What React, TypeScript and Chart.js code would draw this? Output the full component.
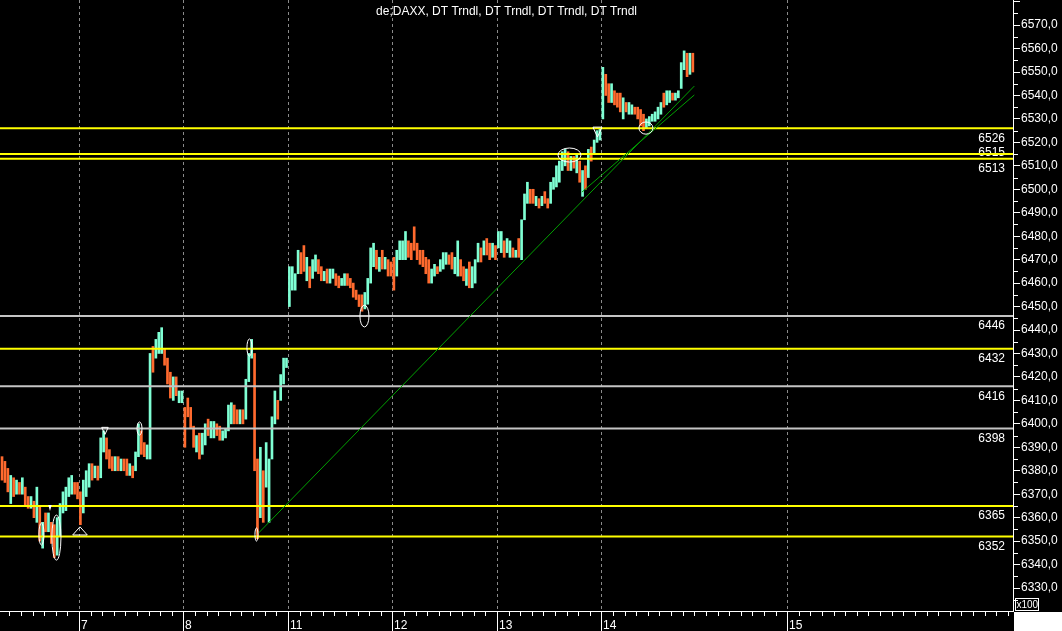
import React, { useEffect, useRef } from "react";
import { Chart, registerables } from "chart.js";

Chart.register(...registerables);

const chartTitle = "de;DAXX, DT Trndl, DT Trndl, DT Trndl, DT Trndl";

// x axis is measured in trading hours (each session is shown as 9 hours)
const dayLabels = ["7", "8", "11", "12", "13", "14", "15"];
const dayStartHours = [0, 9, 18, 27, 36, 45, 61];
const xRange = [-6.8, 80.45];
const yRange = [6320.2, 6580.7];
const yTickValues = [
  6330, 6340, 6350, 6360, 6370, 6380, 6390, 6400, 6410, 6420, 6430, 6440, 6450,
  6460, 6470, 6480, 6490, 6500, 6510, 6520, 6530, 6540, 6550, 6560, 6570, 6580,
];
const yMinorTickValues = [
  6325, 6335, 6345, 6355, 6365, 6375, 6385, 6395, 6405, 6415, 6425, 6435, 6445,
  6455, 6465, 6475, 6485, 6495, 6505, 6515, 6525, 6535, 6545, 6555, 6565, 6575,
];

// 15-minute bars, one session per block (first bar hour of each session)
const sessionFirstHour = [-6.75, 0, 9, 18, 27, 36, 45];
const barHours = 0.25;

// session "6" (partial)
const lows6 = [6376, 6375, 6371, 6366, 6369, 6370, 6370, 6370, 6365, 6364, 6364, 6360, 6358, 6350, 6347, 6354, 6354, 6349, 6343, 6344, 6352, 6362, 6363, 6369, 6370, 6370, 6368];
const highs6 = [6386, 6384, 6381, 6378, 6377, 6376, 6375, 6377, 6373, 6369, 6369, 6367, 6373, 6365, 6358, 6362, 6362, 6358, 6357, 6360, 6366, 6371, 6373, 6377, 6378, 6375, 6375];
const dirs6 = "dddudu duddud ududud duuuuu udd";

// session 7
const lows7 = [6357, 6362, 6369, 6373, 6376, 6377, 6376, 6377, 6388, 6385, 6381, 6380, 6380, 6380, 6380, 6380, 6378, 6378, 6377, 6380, 6386, 6387, 6386, 6385, 6385, 6422, 6428, 6430, 6430, 6425, 6417, 6411, 6410, 6412, 6409, 6409];
const highs7 = [6371, 6376, 6380, 6383, 6383, 6382, 6382, 6394, 6397, 6394, 6389, 6386, 6386, 6386, 6385, 6385, 6385, 6383, 6382, 6388, 6400, 6397, 6392, 6391, 6430, 6433, 6436, 6439, 6441, 6432, 6428, 6422, 6420, 6420, 6414, 6414];
const dirs7 = "duuudu duuddd ududdu duuddu uduuud dduduu";

// session 8
const lows8 = [6390, 6403, 6398, 6390, 6388, 6385, 6387, 6391, 6395, 6394, 6394, 6395, 6393, 6393, 6394, 6397, 6400, 6400, 6400, 6400, 6400, 6402, 6418, 6428, 6380, 6351, 6360, 6358, 6373, 6358, 6385, 6400, 6402, 6410, 6417, 6424];
const highs8 = [6407, 6411, 6407, 6399, 6395, 6396, 6396, 6400, 6402, 6401, 6401, 6400, 6399, 6397, 6398, 6408, 6409, 6408, 6406, 6406, 6406, 6419, 6430, 6436, 6430, 6385, 6390, 6380, 6392, 6385, 6403, 6414, 6410, 6421, 6428, 6428];
const dirs8 = "ddddud uuduud duuuud duduuu dduduu uuduuu";

// session 11
const lows11 = [6450, 6457, 6457, 6464, 6464, 6465, 6461, 6458, 6462, 6465, 6464, 6461, 6461, 6460, 6460, 6462, 6459, 6458, 6459, 6459, 6459, 6458, 6454, 6453, 6450, 6448, 6449, 6451, 6460, 6467, 6466, 6465, 6466, 6466, 6463, 6463];
const highs11 = [6467, 6467, 6464, 6474, 6473, 6476, 6471, 6467, 6470, 6472, 6470, 6467, 6465, 6466, 6466, 6466, 6464, 6463, 6462, 6464, 6464, 6462, 6460, 6457, 6455, 6455, 6456, 6462, 6475, 6477, 6474, 6471, 6474, 6471, 6470, 6469];
const dirs11 = "uuuudd uduudd uduudd uudddd dduuuu dududd";

// session 12
const lows12 = [6457, 6463, 6470, 6470, 6470, 6471, 6470, 6474, 6470, 6468, 6467, 6464, 6460, 6460, 6463, 6464, 6465, 6466, 6468, 6468, 6466, 6464, 6463, 6463, 6461, 6459, 6458, 6458, 6460, 6469, 6469, 6472, 6472, 6470, 6471, 6470];
const highs12 = [6471, 6474, 6478, 6478, 6482, 6478, 6477, 6484, 6477, 6474, 6474, 6471, 6470, 6466, 6468, 6467, 6470, 6473, 6473, 6472, 6473, 6471, 6478, 6470, 6467, 6466, 6469, 6467, 6470, 6477, 6475, 6478, 6479, 6477, 6477, 6476];
const dirs12 = "duuuud dddddd duuduu udduud duduuu duddud";

// session 13
const lows13 = [6475, 6473, 6471, 6473, 6471, 6471, 6471, 6471, 6470, 6487, 6494, 6494, 6494, 6493, 6492, 6493, 6494, 6492, 6494, 6500, 6501, 6503, 6508, 6510, 6508, 6508, 6509, 6507, 6503, 6497, 6500, 6505, 6512, 6515, 6520, 6521];
const highs13 = [6482, 6482, 6478, 6479, 6478, 6475, 6474, 6479, 6487, 6498, 6503, 6500, 6500, 6497, 6496, 6497, 6499, 6496, 6503, 6505, 6510, 6512, 6516, 6517, 6516, 6514, 6514, 6515, 6512, 6508, 6510, 6517, 6518, 6521, 6525, 6526];
const dirs13 = "uuduud uduuud dududd uuuuuu dududu duduuu";

// session 14
const lows14 = [6530, 6540, 6537, 6537, 6536, 6535, 6533, 6530, 6533, 6532, 6532, 6532, 6530, 6527, 6525, 6526, 6527, 6529, 6529, 6530, 6532, 6535, 6536, 6537, 6538, 6538, 6539, 6543, 6551, 6548, 6549, 6550];
const highs14 = [6552, 6549, 6545, 6545, 6542, 6541, 6541, 6539, 6537, 6537, 6536, 6535, 6535, 6534, 6532, 6530, 6531, 6532, 6533, 6535, 6537, 6541, 6542, 6542, 6541, 6541, 6542, 6554, 6559, 6558, 6558, 6558];
const dirs14 = "uddudd duduud ddduuu uuuduu duuuud ud";

// horizontal levels
const yellowLevels = [6526, 6515, 6513, 6432, 6365, 6352];
const grayLevels = [6446, 6416, 6398];

// trend lines: [hour, price] end points
const trendA = [[15.44, 6353.3], [53.0, 6544.0]];
const trendB = [[43.32, 6498.8], [53.0, 6540.2]];

// white annotation ellipses (hour span, price span)
const ellipseLeftHour = [-3.45, -2.33, 5.0, 14.47, 15.16, 24.2, 41.26, 48.23];
const ellipseRightHour = [-3.01, -1.55, 5.43, 14.9, 15.42, 24.98, 43.24, 49.44];
const ellipseTopPrice = [6357.7, 6361.1, 6400.8, 6436.2, 6355.6, 6450.6, 6517.6, 6528.7];
const ellipseBottomPrice = [6348.3, 6341.9, 6395.2, 6428.9, 6350.0, 6441.3, 6511.6, 6523.5];

// white annotation triangles (hour span, tip price, base price)
const triangleLeftHour = [-2.64, -0.54, 1.96, 44.27];
const triangleRightHour = [-2.35, 0.72, 2.52, 45.05];
const triangleTipPrice = [6362.8, 6356.1, 6395.5, 6522.3];
const triangleBasePrice = [6365.4, 6352.6, 6398.5, 6526.5];
const triangleFilled = [true, false, false, false];

const FONT = '"Liberation Sans", Arial, sans-serif';
const UP = "#7fffd4";
const DOWN = "#ff6a2e";

const sessions = [
  { lows: lows6, highs: highs6, dirs: dirs6 },
  { lows: lows7, highs: highs7, dirs: dirs7 },
  { lows: lows8, highs: highs8, dirs: dirs8 },
  { lows: lows11, highs: highs11, dirs: dirs11 },
  { lows: lows12, highs: highs12, dirs: dirs12 },
  { lows: lows13, highs: highs13, dirs: dirs13 },
  { lows: lows14, highs: highs14, dirs: dirs14 },
];

function buildBars() {
  const data: any[] = [];
  const colors: string[] = [];
  sessions.forEach((s, si) => {
    const d = s.dirs.replace(/\s/g, "");
    s.lows.forEach((lo, k) => {
      data.push({ x: sessionFirstHour[si] + (k + 0.5) * barHours, y: [lo, s.highs[k]] });
      colors.push(d[k] === "d" ? DOWN : UP);
    });
  });
  return { data, colors };
}

function levelDataset(v: number, color: string) {
  return {
    type: "line",
    data: [
      { x: xRange[0], y: v },
      { x: xRange[1], y: v },
    ],
    borderColor: color,
    borderWidth: 2,
    pointRadius: 0,
    order: 1,
  };
}

function trendDataset(t: number[][]) {
  return {
    type: "line",
    data: t.map((p) => ({ x: p[0], y: p[1] })),
    borderColor: "#00a000",
    borderWidth: 1,
    pointRadius: 0,
    order: 0,
  };
}

const overlayPlugin = {
  id: "overlay",
  beforeDraw(chart: any) {
    const { ctx, width, height, chartArea } = chart;
    ctx.save();
    ctx.fillStyle = "#000";
    ctx.fillRect(0, 0, width, height);
    ctx.fillStyle = "#fff";
    ctx.fillRect(chartArea.right + 1, chartArea.bottom + 1, width - chartArea.right - 1, height - chartArea.bottom - 1);
    ctx.restore();
  },
  beforeDatasetsDraw(chart: any) {
    const { ctx, chartArea, scales } = chart;
    const xs = scales.x;
    const ys = scales.y;
    ctx.save();
    ctx.strokeStyle = "#8a8a8a";
    ctx.lineWidth = 1;
    ctx.setLineDash([3, 3]);
    dayStartHours.forEach((h) => {
      const px = Math.round(xs.getPixelForValue(h)) + 0.5;
      ctx.beginPath();
      ctx.moveTo(px, chartArea.top);
      ctx.lineTo(px, chartArea.bottom);
      ctx.stroke();
    });
    ctx.setLineDash([]);
    // level labels
    const levels = [...yellowLevels, ...grayLevels].sort((a, b) => a - b);
    ctx.fillStyle = "#ffffff";
    ctx.font = "12px " + FONT;
    ctx.textAlign = "right";
    ctx.textBaseline = "middle";
    let prev = Infinity;
    levels.forEach((v) => {
      let mid = ys.getPixelForValue(v) + 10;
      if (prev - mid < 12) mid = prev - 16;
      ctx.fillText(String(v), chartArea.right - 8, mid);
      prev = mid;
    });
    ctx.restore();
  },
  afterDatasetsDraw(chart: any) {
    const { ctx, chartArea, scales, height } = chart;
    const xs = scales.x;
    const ys = scales.y;
    ctx.save();
    ctx.strokeStyle = "#ffffff";
    ctx.fillStyle = "#ffffff";
    ctx.lineWidth = 1;
    // ellipses
    ellipseLeftHour.forEach((lh, i) => {
      const xl = xs.getPixelForValue(lh);
      const xr = xs.getPixelForValue(ellipseRightHour[i]);
      const yt = ys.getPixelForValue(ellipseTopPrice[i]);
      const yb = ys.getPixelForValue(ellipseBottomPrice[i]);
      ctx.beginPath();
      ctx.ellipse((xl + xr) / 2, (yt + yb) / 2, Math.max((xr - xl) / 2, 1), Math.max((yb - yt) / 2, 1), 0, 0, Math.PI * 2);
      ctx.stroke();
    });
    // triangles
    triangleLeftHour.forEach((lh, i) => {
      const xl = xs.getPixelForValue(lh);
      const xr = xs.getPixelForValue(triangleRightHour[i]);
      const tip = ys.getPixelForValue(triangleTipPrice[i]);
      const base = ys.getPixelForValue(triangleBasePrice[i]);
      ctx.beginPath();
      ctx.moveTo(xl, base);
      ctx.lineTo(xr, base);
      ctx.lineTo((xl + xr) / 2, tip);
      ctx.closePath();
      if (triangleFilled[i]) ctx.fill();
      else ctx.stroke();
    });
    // x axis
    const by = chartArea.bottom;
    ctx.beginPath();
    ctx.moveTo(0, by + 0.5);
    ctx.lineTo(chartArea.right + 1, by + 0.5);
    ctx.stroke();
    ctx.beginPath();
    for (let h = Math.ceil(xRange[0]); h <= xRange[1]; h++) {
      const px = Math.round(xs.getPixelForValue(h)) + 0.5;
      const isDay = dayStartHours.indexOf(h) >= 0;
      ctx.moveTo(px, by + 1);
      ctx.lineTo(px, isDay ? height : by + 5);
    }
    ctx.stroke();
    ctx.font = "12px " + FONT;
    ctx.textAlign = "left";
    ctx.textBaseline = "alphabetic";
    dayStartHours.forEach((h, i) => {
      const px = Math.round(xs.getPixelForValue(h));
      ctx.fillText(dayLabels[i], px + 2, height - 2);
    });
    // minor y ticks
    ctx.beginPath();
    yMinorTickValues.forEach((v) => {
      const py = Math.round(ys.getPixelForValue(v)) + 0.5;
      ctx.moveTo(chartArea.right + 1, py);
      ctx.lineTo(chartArea.right + 5, py);
    });
    ctx.stroke();
    // title
    ctx.textAlign = "center";
    ctx.fillText(chartTitle, (chartArea.left + chartArea.right) / 2, 15);
    // x100 box
    ctx.strokeRect(chartArea.right + 2.5, by - 12.5, 23, 12);
    ctx.font = "10px " + FONT;
    ctx.textAlign = "left";
    ctx.fillText("x100", chartArea.right + 3.5, by - 3.5);
    ctx.restore();
  },
};

export default function App() {
  const ref = useRef<HTMLCanvasElement>(null);
  useEffect(() => {
    document.body.style.margin = "0";
    document.body.style.background = "#000";
    const bars = buildBars();
    const datasets: any[] = [
      {
        type: "bar",
        data: bars.data,
        backgroundColor: bars.colors,
        borderWidth: 0,
        barThickness: 2,
        grouped: false,
        order: 3,
      },
      ...yellowLevels.map((v) => levelDataset(v, "#ffff00")),
      ...grayLevels.map((v) => levelDataset(v, "#c4c4c4")),
      trendDataset(trendA),
      trendDataset(trendB),
    ];
    const chart = new Chart(ref.current as HTMLCanvasElement, {
      type: "bar",
      data: { datasets },
      options: {
        animation: false,
        responsive: false,
        events: [],
        layout: { padding: { left: 0, right: 0, top: 0, bottom: 20 } },
        plugins: { legend: { display: false }, tooltip: { enabled: false }, title: { display: false } },
        scales: {
          x: { type: "linear", min: xRange[0], max: xRange[1], display: false, offset: false },
          y: {
            type: "linear",
            position: "right",
            min: yRange[0],
            max: yRange[1],
            afterBuildTicks: (s: any) => {
              s.ticks = yTickValues.map((v) => ({ value: v }));
            },
            afterFit: (s: any) => {
              s.width = 49;
              s.paddingTop = 0;
              s.paddingBottom = 0;
            },
            ticks: {
              autoSkip: false,
              color: "#ffffff",
              padding: 1,
              font: { family: FONT, size: 12 },
              callback: (v: any) => (Number(v) > yRange[1] - 5 ? "" : Number(v).toFixed(1).replace(".", ",")),
            },
            grid: { drawOnChartArea: false, drawTicks: true, tickLength: 7, color: "#ffffff", lineWidth: 1 },
            border: { display: true, color: "#ffffff", width: 1 },
          },
        },
      } as any,
      plugins: [overlayPlugin],
    } as any);
    return () => chart.destroy();
  }, []);
  return (
    <div style={{ width: 1062, height: 631 }}>
      <canvas ref={ref} width={1062} height={631} style={{ display: "block" }} />
    </div>
  );
}
